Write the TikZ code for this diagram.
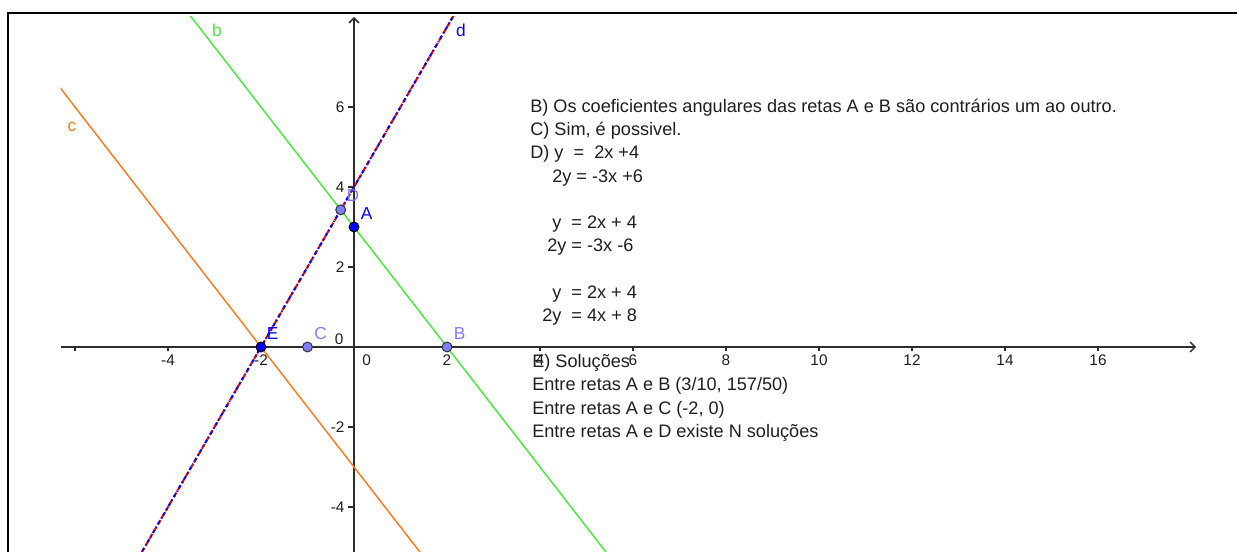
\documentclass[tikz,border=0pt]{standalone}
\usepackage{fontspec}
\setmainfont{Liberation Sans}
\usepackage{tikz}
\usetikzlibrary{arrows.meta,calc}
\definecolor{ink}{RGB}{30,30,30}
\definecolor{axisgray}{RGB}{45,45,45}
\definecolor{lineb}{RGB}{70,235,60}
\definecolor{linec}{RGB}{255,122,30}
\definecolor{lined}{RGB}{0,0,255}
\definecolor{linea}{RGB}{240,0,0}
\definecolor{ptdark}{RGB}{0,0,255}
\definecolor{ptlight}{RGB}{125,125,255}
\tikzset{
  axisline/.style={draw=axisgray, line width=1.1pt,
    -{Straight Barb[length=1.3mm,width=2.6mm]}},
  tickmark/.style={draw=axisgray, line width=0.9pt},
  ticklab/.style={font=\fontsize{11.5}{13}\selectfont, text=ink, inner sep=0pt},
  graph/.style={line width=1.1pt},
  dotdark/.style={circle, draw=black, fill=ptdark, line width=0.75pt,
    minimum size=7.4pt, inner sep=0pt},
  dotlight/.style={circle, draw=black!80, fill=ptlight, line width=0.75pt,
    minimum size=7.4pt, inner sep=0pt},
  ptlab/.style={font=\fontsize{13}{15}\selectfont, inner sep=0pt},
  txt/.style={font=\fontsize{13.6}{16}\selectfont, text=ink, anchor=base west,
    inner sep=0pt},
}

\begin{document}
\begin{tikzpicture}[x=34.875pt,y=30pt]
  \useasboundingbox (-7.613,-5.125) rectangle (18.989,8.675);
  % frame
  \draw[line width=1.5pt] (-7.441,-5.3) -- (-7.441,8.35) -- (19.2,8.35);
  % axes
  \draw[axisline] (-6.3,0) -- (18.11,0);
  \draw[axisline] (0,-5.2) -- (0,8.25);
  \foreach \k in {-6,-4,...,16} \draw[tickmark] (\k,0) -- (\k,-0.11);
  \foreach \k in {-4,-2,2,4,6} \draw[tickmark] (0,\k) -- (-0.12,\k);
  \foreach \k in {-4,-2,2,4,...,16} \node[ticklab] (xl\k) at (\k,-0.33) {\k};
  \node[ticklab] (xl0) at (0.27,-0.33) {0};
  \foreach \k in {-4,-2,2,4,6} \node[ticklab, anchor=east] (yl\k) at (-0.2,\k) {\k};
  \node[ticklab, anchor=east] (yl0) at (-0.22,0.2) {0};
  % lines
  \begin{scope}
    \clip (-6.31,-5.2) rectangle (19,8.27);
    \draw[graph, lineb] (-4,9) -- (6,-6);
    \draw[graph, linec] (-7,7.5) -- (2,-6);
    \draw[graph, linea, line width=1.5pt, dash pattern=on 4pt off 2pt] (-5,-6) -- (2.5,9);
    \draw[graph, lined, line width=1.5pt, dash pattern=on 2.5pt off 2.2pt on 0.9pt off 2.2pt]
      (-5,-6) -- (2.5,9);
  \end{scope}
  \node[ptlab, text=lineb] (lb) at (-2.946,7.925) {b};
  \node[ptlab, text=linec] (lc) at (-6.065,5.5) {c};
  \node[ptlab, text=lined] (ld) at (2.30,7.925) {d};
  % points
  \node[dotlight] (D) at (-2/7,24/7) {};
  \node[dotdark] (A) at (0,3) {};
  \node[dotlight] (B) at (2,0) {};
  \node[dotlight] (C) at (-1,0) {};
  \node[dotdark] (E) at (-2,0) {};
  \node[ptlab, text=ptdark] (labA) at ($(A)+(0.27,0.33)$) {A};
  \node[ptlab, text=ptlight] (labB) at ($(B)+(0.27,0.33)$) {B};
  \node[ptlab, text=ptlight] (labC) at ($(C)+(0.28,0.33)$) {C};
  \node[ptlab, text=ptlight] (labD) at ($(D)+(0.26,0.35)$) {D};
  \node[ptlab, text=ptdark] (labE) at ($(E)+(0.25,0.33)$) {E};
  % answers
  \node[txt] (t0) at (3.785,5.8625) {B) Os coeficientes angulares das retas A e B são contrários um ao outro.};
  \node[txt] (t1) at (3.785,5.2825) {C) Sim, é possivel.};
  \node[txt] (t2) at (3.785,4.7025) {D) y\ \ =\ \ 2x +4};
  \node[txt] (t3) at (4.258,4.1225) {2y = -3x +6};
  \node[txt] (t5) at (4.258,2.9625) {y\ \ = 2x + 4};
  \node[txt] (t6) at (4.151,2.3825) {2y = -3x -6};
  \node[txt] (t8) at (4.258,1.2225) {y\ \ = 2x + 4};
  \node[txt] (t9) at (4.043,0.6425) {2y\ \ = 4x + 8};
  \node[txt] (t11) at (3.828,-0.5175) {E) Soluções};
  \node[txt] (t12) at (3.828,-1.0975) {Entre retas A e B (3/10, 157/50)};
  \node[txt] (t13) at (3.828,-1.6775) {Entre retas A e C (-2, 0)};
  \node[txt] (t14) at (3.828,-2.2575) {Entre retas A e D existe N soluções};
\end{tikzpicture}
\end{document}
